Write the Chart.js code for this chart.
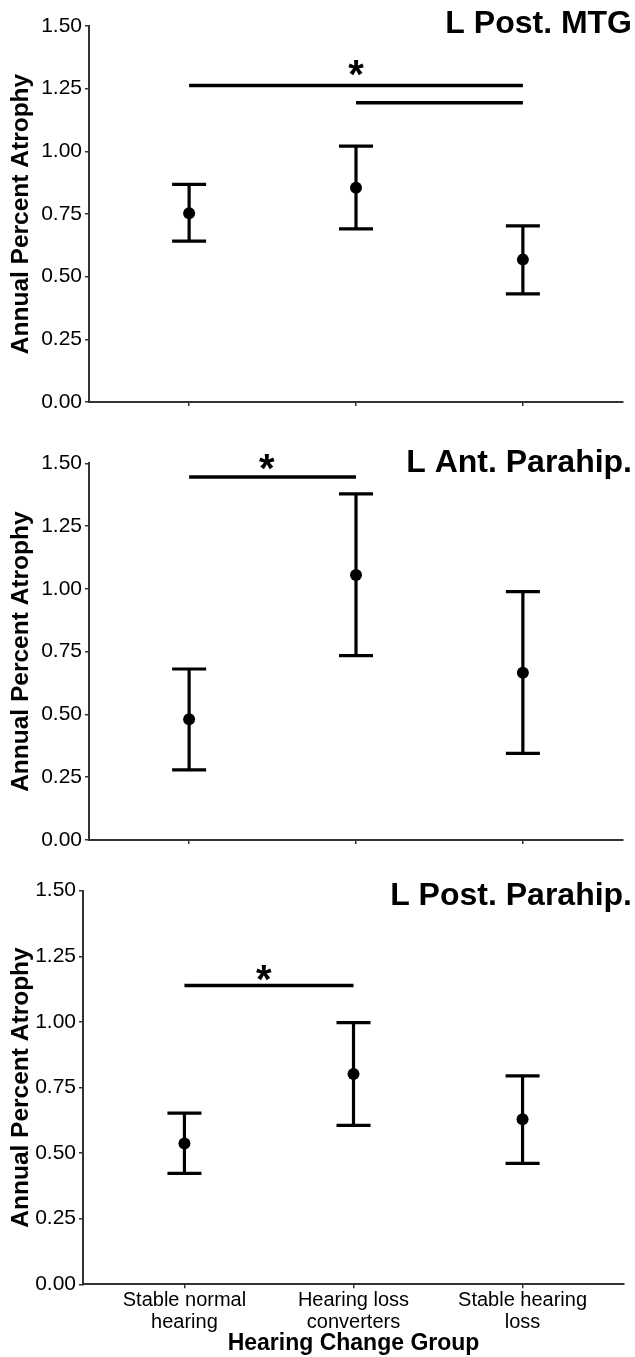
<!DOCTYPE html>
<html>
<head>
<meta charset="utf-8">
<script src="https://cdn.jsdelivr.net/npm/chart.js@4.4.1/dist/chart.umd.min.js"></script>
<style>
  html, body { margin: 0; padding: 0; background: #ffffff; }
  #wrap { position: relative; width: 635px; height: 1357px; overflow: hidden; }
  .panel { position: absolute; left: 0; width: 635px; }
</style>
</head>
<body>
<div id="wrap">
  <div class="panel" style="top:0px;height:430px"><canvas id="c1" width="635" height="430"></canvas></div>
  <div class="panel" style="top:430px;height:432px"><canvas id="c2" width="635" height="432"></canvas></div>
  <div class="panel" style="top:862px;height:495px"><canvas id="c3" width="635" height="495"></canvas></div>
</div>
<script>
// ---------------- DATA ----------------
const categories = [["Stable normal", "hearing"], ["Hearing loss", "converters"], ["Stable hearing", "loss"]];
const yTickValues = [0, 0.25, 0.5, 0.75, 1.0, 1.25, 1.5];
const yAxisTitle = "Annual Percent Atrophy";
const xAxisTitle = "Hearing Change Group";

const titles = ["L Post. MTG", "L Ant. Parahip.", "L Post. Parahip."];

// L Post. MTG
const mtgMean  = [0.753, 0.855, 0.568];
const mtgLower = [0.642, 0.691, 0.431];
const mtgUpper = [0.868, 1.021, 0.703];
const mtgSig   = [{ from: 0, to: 2, y: 1.263 }, { from: 1, to: 2, y: 1.194 }];
const mtgStars = [{ x: 1, y: 1.344 }];

// L Ant. Parahip.
const antMean  = [0.481, 1.055, 0.666];
const antLower = [0.279, 0.734, 0.345];
const antUpper = [0.681, 1.378, 0.989];
const antSig   = [{ from: 0, to: 1, y: 1.445 }];
const antStars = [{ x: 0.465, y: 1.516 }];

// L Post. Parahip.
const postMean  = [0.537, 0.801, 0.629];
const postLower = [0.423, 0.606, 0.461];
const postUpper = [0.652, 0.997, 0.794];
const postSig   = [{ from: 0, to: 1, y: 1.139 }];
const postStars = [{ x: 0.47, y: 1.198 }];

// ---------------- LAYOUT (positions / styles) ----------------
const FONT = "'Liberation Sans', Arial, Helvetica, sans-serif";
const AXIS_COLOR = "#333333";
const INK = "#000000";

const panels = [
  { canvas: "c1", title: titles[0], mean: mtgMean, lower: mtgLower, upper: mtgUpper, sig: mtgSig, stars: mtgStars,
    height: 430, area: { top: 26, bottom: 402, left: 89, right: 623 }, titleBaseline: 33, showX: false },
  { canvas: "c2", title: titles[1], mean: antMean, lower: antLower, upper: antUpper, sig: antSig, stars: antStars,
    height: 432, area: { top: 33.3, bottom: 410, left: 89, right: 623 }, titleBaseline: 42, showX: false },
  { canvas: "c3", title: titles[2], mean: postMean, lower: postLower, upper: postUpper, sig: postSig, stars: postStars,
    height: 495, area: { top: 28.7, bottom: 422.3, left: 83, right: 624 }, titleBaseline: 43, showX: true }
];

Chart.defaults.font.family = FONT;
Chart.defaults.color = INK;

function makeChart(p) {
  const errorBarPlugin = {
    id: "errorBars",
    beforeDatasetsDraw(chart) {
      const ctx = chart.ctx;
      const xs = chart.scales.x, ys = chart.scales.y;
      ctx.save();
      ctx.strokeStyle = INK;
      ctx.lineWidth = 3.2;
      ctx.lineCap = "butt";
      for (let i = 0; i < p.mean.length; i++) {
        const x = xs.getPixelForValue(i);
        const yl = ys.getPixelForValue(p.lower[i]);
        const yu = ys.getPixelForValue(p.upper[i]);
        ctx.beginPath();
        ctx.moveTo(x, yl); ctx.lineTo(x, yu);
        ctx.moveTo(x - 17, yl); ctx.lineTo(x + 17, yl);
        ctx.moveTo(x - 17, yu); ctx.lineTo(x + 17, yu);
        ctx.stroke();
      }
      ctx.restore();
    },
    afterDraw(chart) {
      const ctx = chart.ctx;
      const xs = chart.scales.x, ys = chart.scales.y;
      ctx.save();
      ctx.fillStyle = INK;
      // stars
      const starSize = 40;
      ctx.font = "bold " + starSize + "px " + FONT;
      ctx.textAlign = "center";
      ctx.textBaseline = "alphabetic";
      p.stars.forEach(s => {
        const x = xs.getPixelForValue(s.x);
        const y = ys.getPixelForValue(s.y);
        ctx.fillText("*", x, y + 0.57 * starSize);
      });
      // panel title
      ctx.font = "bold 32px " + FONT;
      ctx.textAlign = "right";
      ctx.fillText(p.title, 632, p.titleBaseline);
      ctx.restore();
    }
  };

  const datasets = [
    {
      type: "scatter",
      data: p.mean.map((v, i) => ({ x: i, y: v })),
      pointRadius: 6,
      pointHoverRadius: 6,
      pointBackgroundColor: INK,
      pointBorderWidth: 0,
      borderColor: INK
    }
  ];
  p.sig.forEach(s => {
    datasets.push({
      type: "line",
      data: [{ x: s.from, y: s.y }, { x: s.to, y: s.y }],
      borderColor: INK,
      borderWidth: 3.5,
      pointRadius: 0,
      borderCapStyle: "butt",
      fill: false
    });
  });

  return new Chart(document.getElementById(p.canvas), {
    type: "scatter",
    data: { datasets },
    plugins: [errorBarPlugin],
    options: {
      responsive: false,
      animation: false,
      events: [],
      devicePixelRatio: 1,
      layout: { padding: { top: p.area.top, right: 635 - p.area.right, left: 0, bottom: 0 } },
      plugins: { legend: { display: false }, tooltip: { enabled: false }, title: { display: false } },
      scales: {
        x: {
          type: "linear",
          min: -0.6,
          max: 2.6,
          afterBuildTicks(scale) { scale.ticks = categories.map((c, i) => ({ value: i })); },
          afterFit(scale) { scale.height = p.height - p.area.bottom; },
          ticks: {
            display: true,
            autoSkip: false,
            maxRotation: 0,
            padding: 1,
            color: INK,
            font: { size: 20, lineHeight: 1.1 },
            callback: (v) => p.showX ? categories[Math.round(v)] : ""
          },
          grid: { drawOnChartArea: false, drawTicks: true, tickLength: 4, color: AXIS_COLOR, lineWidth: 1.5 },
          border: { display: true, color: AXIS_COLOR, width: 2 },
          title: {
            display: p.showX,
            text: xAxisTitle,
            color: INK,
            font: { size: 23, weight: "bold", lineHeight: 1.2 },
            padding: { top: 0, bottom: 0 }
          }
        },
        y: {
          type: "linear",
          min: 0,
          max: 1.5,
          afterBuildTicks(scale) { scale.ticks = yTickValues.map(v => ({ value: v })); },
          afterFit(scale) { scale.width = p.area.left; },
          ticks: {
            color: INK,
            padding: 3,
            font: { size: 21 },
            callback: (v) => Number(v).toFixed(2)
          },
          grid: { drawOnChartArea: false, drawTicks: true, tickLength: 4, color: AXIS_COLOR, lineWidth: 1.5 },
          border: { display: true, color: AXIS_COLOR, width: 2 },
          title: {
            display: true,
            text: yAxisTitle,
            color: INK,
            font: { size: 24.5, weight: "bold", lineHeight: 1.2 },
            padding: { top: 7, bottom: 0 }
          }
        }
      }
    }
  });
}

panels.forEach(makeChart);
</script>
</body>
</html>
